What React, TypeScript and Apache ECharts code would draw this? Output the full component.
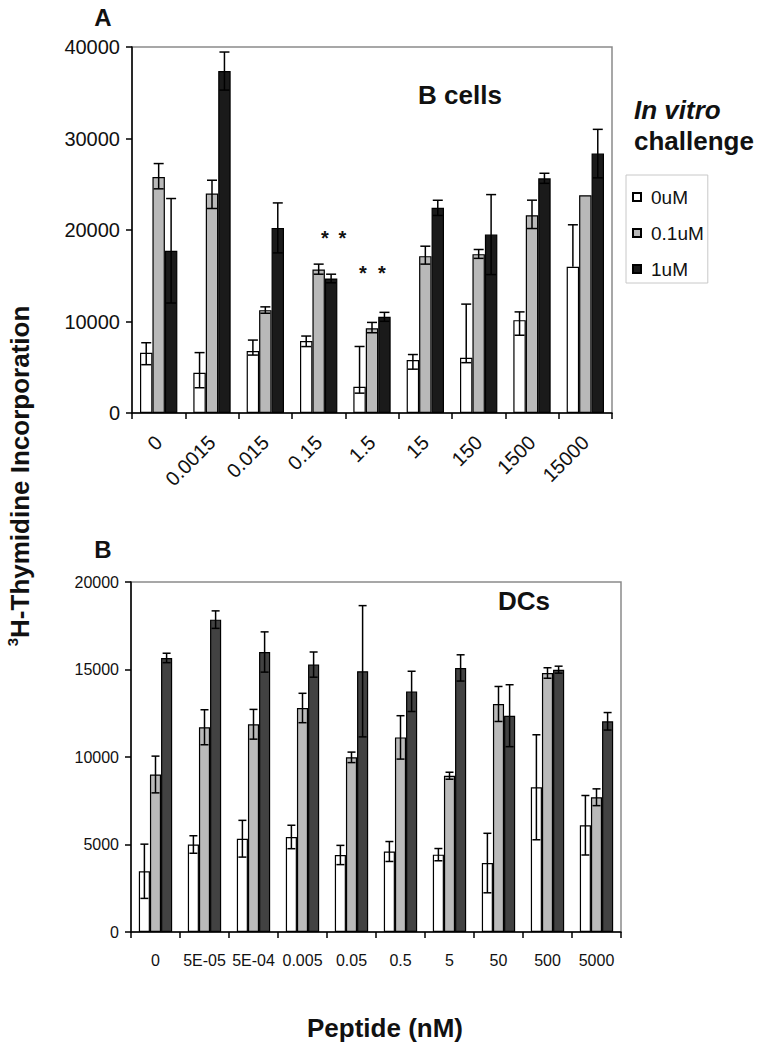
import React, { useEffect, useRef } from "react";
import * as echarts from "echarts";

// ---------- Panel A: B cells ----------
const catsA = ["0", "0.0015", "0.015", "0.15", "1.5", "15", "150", "1500", "15000"];
const a0 = [6580, 4400, 6770, 7860, 2870, 5790, 6040, 10150, 15970];
const a0Up = [1100, 2200, 1200, 550, 4400, 600, 5860, 900, 4600];
const a0Dn = [1300, 1640, 440, 600, 700, 1000, 540, 1650, 0];
const a01 = [25800, 23980, 11240, 15690, 9250, 17140, 17360, 21620, 23800];
const a01Up = [1460, 1460, 360, 580, 650, 1090, 510, 1640, 0];
const a01Dn = [1300, 1630, 340, 520, 480, 870, 460, 1460, 0];
const a1 = [17730, 37370, 20230, 14700, 10510, 22420, 19500, 25650, 28350];
const a1Up = [5710, 2080, 2730, 470, 490, 830, 4370, 550, 2650];
const a1Dn = [5710, 2080, 2730, 470, 490, 830, 4370, 550, 2650];
// significance stars: [category index, value]
const starsA = [
  [3, 19650],
  [3, 19650],
  [4, 15900],
  [4, 15900],
];

// ---------- Panel B: DCs ----------
const catsB = ["0", "5E-05", "5E-04", "0.005", "0.05", "0.5", "5", "50", "500", "5000"];
const b0 = [3470, 5000, 5330, 5430, 4400, 4600, 4420, 3940, 8270, 6100];
const b0Err = [1550, 500, 1050, 670, 550, 570, 350, 1700, 3000, 1700];
const b01 = [9000, 11700, 11870, 12800, 9980, 11120, 8930, 13030, 14800, 7700];
const b01Err = [1050, 1000, 850, 840, 300, 1240, 200, 1000, 300, 480];
const b1 = [15660, 17850, 16000, 15280, 14900, 13750, 15090, 12360, 14990, 12040];
const b1Err = [270, 500, 1150, 720, 3750, 1150, 750, 1770, 200, 500];

const legendNames = ["0uM", "0.1uM", "1uM"];

const FONT = "'Liberation Sans', Arial, Helvetica, sans-serif";
const GAP_A = 0.3;
const GAP_B = 0.32;
const starOffsets = [0.5, 1.9, -0.73, 0.8];

function errRender(idx: number, gap: number, halfCap: number) {
  return (params: any, api: any) => {
    const cat = api.value(0);
    const v = api.value(1);
    const up = api.value(2);
    const dn = api.value(3);
    if (!up && !dn) return null;
    const c = api.coord([cat, v]);
    const band = api.size([1, 0])[0];
    const bw = (band * (1 - gap)) / 3;
    const x = c[0] + (idx - 1) * bw;
    const yt = api.coord([cat, v + up])[1];
    const yb = api.coord([cat, v - dn])[1];
    const st = { stroke: "#000", lineWidth: 1.5 };
    const children: any[] = [
      { type: "line", shape: { x1: x, y1: yt, x2: x, y2: yb }, style: st },
    ];
    if (up > 0)
      children.push({ type: "line", shape: { x1: x - halfCap, y1: yt, x2: x + halfCap, y2: yt }, style: st });
    if (dn > 0)
      children.push({ type: "line", shape: { x1: x - halfCap, y1: yb, x2: x + halfCap, y2: yb }, style: st });
    return { type: "group", children };
  };
}

function errData(vals: number[], up: number[], dn: number[]) {
  return vals.map((v, i) => [i, v, up[i], dn[i]]);
}

export default function App() {
  const ref = useRef<HTMLDivElement>(null);
  useEffect(() => {
    document.body.style.margin = "0";
    const chart = echarts.init(ref.current!, null, { renderer: "svg" });
    const barStyle = (color: string) => ({ color, borderColor: "#000", borderWidth: 1.2 });
    const axisLine = { show: true, lineStyle: { color: "#000", width: 1.5 } };
    const axisTick = { show: true, length: 6, lineStyle: { color: "#000", width: 1.5 } };
    const plain = (v: number) => String(v);

    const option: any = {
      animation: false,
      backgroundColor: "#fff",
      textStyle: { fontFamily: FONT },
      grid: [
        { left: 132, top: 47, width: 480, height: 366, show: true, borderColor: "#8a8a8a", borderWidth: 1.5 },
        { left: 131, top: 582, width: 490, height: 350, show: true, borderColor: "#8a8a8a", borderWidth: 1.5 },
      ],
      xAxis: [
        {
          type: "category",
          gridIndex: 0,
          data: catsA,
          axisLine,
          axisTick,
          axisLabel: { rotate: 45, fontSize: 20, color: "#111", margin: 26, fontFamily: FONT, interval: 0 },
        },
        {
          type: "category",
          gridIndex: 1,
          data: catsB,
          axisLine,
          axisTick,
          axisLabel: { fontSize: 16, color: "#111", margin: 20, fontFamily: FONT, interval: 0 },
        },
      ],
      yAxis: [
        {
          type: "value",
          gridIndex: 0,
          min: 0,
          max: 40000,
          interval: 10000,
          axisLine,
          axisTick,
          splitLine: { show: false },
          axisLabel: { fontSize: 20, color: "#111", margin: 12, fontFamily: FONT, formatter: plain },
        },
        {
          type: "value",
          gridIndex: 1,
          min: 0,
          max: 20000,
          interval: 5000,
          axisLine,
          axisTick,
          splitLine: { show: false },
          axisLabel: { fontSize: 16, color: "#111", margin: 12, fontFamily: FONT, formatter: plain },
        },
      ],
      legend: {
        data: legendNames,
        orient: "vertical",
        left: 626,
        top: 175,
        itemWidth: 8,
        itemHeight: 8,
        itemGap: 16,
        icon: "rect",
        padding: [12, 4, 4, 6],
        borderColor: "#c8c8c8",
        borderWidth: 1,
        selectedMode: false,
        textStyle: { fontSize: 19, color: "#111", fontFamily: FONT, lineHeight: 20, padding: [0, 0, 0, 5] },
      },
      series: [
        { name: "0uM", type: "bar", xAxisIndex: 0, yAxisIndex: 0, data: a0, barGap: 0, barCategoryGap: "30%", itemStyle: barStyle("#ffffff") },
        { name: "0.1uM", type: "bar", xAxisIndex: 0, yAxisIndex: 0, data: a01, barGap: 0, barCategoryGap: "30%", itemStyle: barStyle("#b9b9b9") },
        { name: "1uM", type: "bar", xAxisIndex: 0, yAxisIndex: 0, data: a1, barGap: 0, barCategoryGap: "30%", itemStyle: barStyle("#1a1a1a") },
        { name: "DC 0uM", type: "bar", xAxisIndex: 1, yAxisIndex: 1, data: b0, barGap: 0, barCategoryGap: "32%", itemStyle: barStyle("#ffffff") },
        { name: "DC 0.1uM", type: "bar", xAxisIndex: 1, yAxisIndex: 1, data: b01, barGap: 0, barCategoryGap: "32%", itemStyle: barStyle("#bababa") },
        { name: "DC 1uM", type: "bar", xAxisIndex: 1, yAxisIndex: 1, data: b1, barGap: 0, barCategoryGap: "32%", itemStyle: barStyle("#424242") },
        { type: "custom", xAxisIndex: 0, yAxisIndex: 0, z: 5, renderItem: errRender(0, GAP_A, 5), data: errData(a0, a0Up, a0Dn) },
        { type: "custom", xAxisIndex: 0, yAxisIndex: 0, z: 5, renderItem: errRender(1, GAP_A, 5), data: errData(a01, a01Up, a01Dn) },
        { type: "custom", xAxisIndex: 0, yAxisIndex: 0, z: 5, renderItem: errRender(2, GAP_A, 5), data: errData(a1, a1Up, a1Dn) },
        { type: "custom", xAxisIndex: 1, yAxisIndex: 1, z: 5, renderItem: errRender(0, GAP_B, 4), data: errData(b0, b0Err, b0Err) },
        { type: "custom", xAxisIndex: 1, yAxisIndex: 1, z: 5, renderItem: errRender(1, GAP_B, 4), data: errData(b01, b01Err, b01Err) },
        { type: "custom", xAxisIndex: 1, yAxisIndex: 1, z: 5, renderItem: errRender(2, GAP_B, 4), data: errData(b1, b1Err, b1Err) },
        {
          type: "custom",
          xAxisIndex: 0,
          yAxisIndex: 0,
          z: 6,
          data: starsA,
          renderItem: (params: any, api: any) => {
            const cat = api.value(0);
            const v = api.value(1);
            const c = api.coord([cat, v]);
            const band = api.size([1, 0])[0];
            const bw = (band * (1 - GAP_A)) / 3;
            const off = starOffsets[params.dataIndex];
            return {
              type: "text",
              x: c[0] + off * bw,
              y: c[1] + 5,
              style: { text: "*", fontSize: 20, fontWeight: "bold", fill: "#111", align: "center", verticalAlign: "middle", fontFamily: FONT },
            };
          },
        },
      ],
      graphic: [
        { type: "text", x: 103, y: 17, style: { text: "A", fontSize: 24, fontWeight: "bold", fill: "#111", align: "center", verticalAlign: "middle", fontFamily: FONT } },
        { type: "text", x: 103, y: 549, style: { text: "B", fontSize: 24, fontWeight: "bold", fill: "#111", align: "center", verticalAlign: "middle", fontFamily: FONT } },
        { type: "text", x: 460, y: 95, style: { text: "B cells", fontSize: 26, fontWeight: "bold", fill: "#111", align: "center", verticalAlign: "middle", fontFamily: FONT } },
        { type: "text", x: 524, y: 601, style: { text: "DCs", fontSize: 26, fontWeight: "bold", fill: "#111", align: "center", verticalAlign: "middle", fontFamily: FONT } },
        { type: "text", x: 634, y: 110, style: { text: "In vitro", fontSize: 26, fontWeight: "bold", fontStyle: "italic", fill: "#111", align: "left", verticalAlign: "middle", fontFamily: FONT } },
        { type: "text", x: 634, y: 141, style: { text: "challenge", fontSize: 26, fontWeight: "bold", fill: "#111", align: "left", verticalAlign: "middle", fontFamily: FONT } },
        { type: "text", x: 385, y: 1028, style: { text: "Peptide (nM)", fontSize: 26, fontWeight: "bold", fill: "#111", align: "center", verticalAlign: "middle", fontFamily: FONT } },
        {
          type: "text",
          x: 20,
          y: 476,
          rotation: Math.PI / 2,
          style: {
            text: "{sup|3}{main|H-Thymidine Incorporation}",
            align: "center",
            verticalAlign: "middle",
            fill: "#111",
            fontFamily: FONT,
            rich: {
              sup: { fontSize: 15, fontWeight: "bold", verticalAlign: "top", lineHeight: 14, fill: "#111", fontFamily: FONT },
              main: { fontSize: 26, fontWeight: "bold", lineHeight: 30, fill: "#111", fontFamily: FONT },
            },
          },
        },
      ],
    };
    chart.setOption(option);
    return () => chart.dispose();
  }, []);
  return <div ref={ref} style={{ width: 761, height: 1050 }} />;
}
